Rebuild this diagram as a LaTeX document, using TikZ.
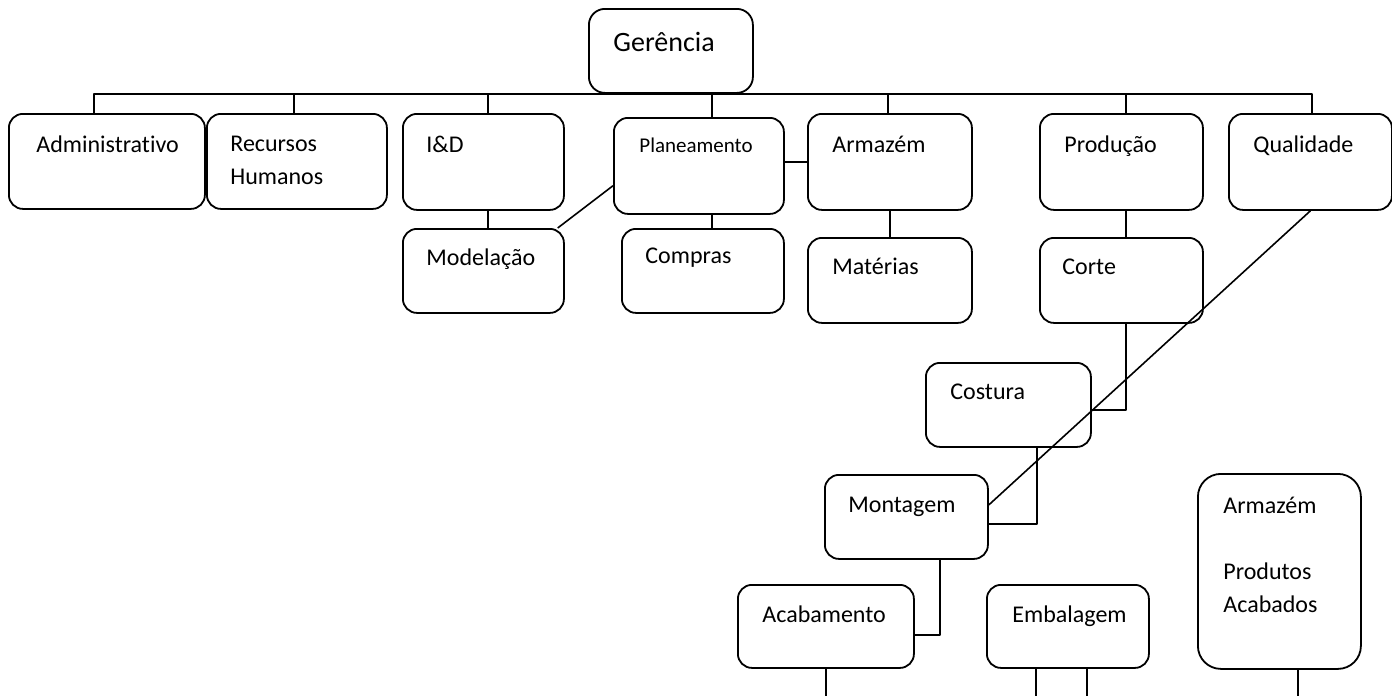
\documentclass[tikz,border=0pt]{standalone}
\usepackage{fontspec}
\setmainfont{Carlito}[Ligatures=CommonOff]
\usetikzlibrary{positioning}
\tikzset{
	caixa/.style={draw, line width=0.9pt, rounded corners=7pt, anchor=north west, inner sep=0pt},
	texto/.style={anchor=base west, inner sep=0pt, align=left, font=\fontsize{12}{16.5}\selectfont},
	ligacao/.style={line width=0.8pt}
}

\begin{document}
\begin{tikzpicture}[x=0.5pt,y=-0.5pt,line join=round]
		\useasboundingbox (0,0) rectangle (1392,696);
		\coordinate (fundo) at (0,696);
		\node[caixa, minimum width=82pt, minimum height=42pt, rounded corners=8pt,
			label={[texto, font=\fontsize{14}{17}\selectfont, xshift=12.5pt, yshift=-21.5pt]north west:Gerência}] (Gerencia) at (588,8) {};
		\node[caixa, minimum width=98pt, minimum height=47.5pt,
			label={[texto, xshift=14pt, yshift=-19.5pt]north west:Administrativo}] (Administrativo) at (8,113) {};
		\node[caixa, minimum width=90pt, minimum height=47.5pt,
			label={[texto, xshift=12pt, yshift=-35.5pt]north west:{Recursos\\Humanos}}] (Recursos) at (206,113) {};
		\node[caixa, minimum width=80.5pt, minimum height=48pt,
			label={[texto, xshift=12pt, yshift=-19.5pt]north west:I\&D}] (ID) at (402,113) {};
		\node[caixa, minimum width=85pt, minimum height=48pt,
			label={[texto, font=\fontsize{10.5}{13}\selectfont, xshift=13pt, yshift=-17.5pt]north west:Planeamento}] (Planeamento) at (613,117) {};
		\node[caixa, minimum width=82pt, minimum height=48pt,
			label={[texto, xshift=12.5pt, yshift=-19.5pt]north west:Armazém}] (Armazem) at (807,113) {};
		\node[caixa, minimum width=81.5pt, minimum height=48pt,
			label={[texto, xshift=12.5pt, yshift=-19.5pt]north west:Produção}] (Producao) at (1039,113) {};
		\node[caixa, minimum width=81.5pt, minimum height=48pt,
			label={[texto, xshift=12.5pt, yshift=-19.5pt]north west:Qualidade}] (Qualidade) at (1228,113) {};
		\node[caixa, minimum width=80.5pt, minimum height=42pt,
			label={[texto, xshift=12pt, yshift=-18.5pt]north west:Modelação}] (Modelacao) at (402,228) {};
		\node[caixa, minimum width=81pt, minimum height=42pt,
			label={[texto, xshift=12pt, yshift=-17.5pt]north west:Compras}] (Compras) at (621,228) {};
		\node[caixa, minimum width=82pt, minimum height=42.5pt,
			label={[texto, xshift=12.5pt, yshift=-18.5pt]north west:Matérias}] (Materias) at (807,237) {};
		\node[caixa, minimum width=81.5pt, minimum height=42.5pt,
			label={[texto, xshift=11.5pt, yshift=-18.5pt]north west:Corte}] (Corte) at (1039,237) {};
		\node[caixa, minimum width=82.5pt, minimum height=42pt,
			label={[texto, xshift=12.5pt, yshift=-18.5pt]north west:Costura}] (Costura) at (925,362) {};
		\node[caixa, minimum width=81.5pt, minimum height=42pt,
			label={[texto, xshift=12pt, yshift=-19pt]north west:Montagem}] (Montagem) at (824,474) {};
		\node[caixa, minimum width=88pt, minimum height=41.5pt,
			label={[texto, xshift=12.5pt, yshift=-19pt]north west:Acabamento}] (Acabamento) at (737,584) {};
		\node[caixa, minimum width=81pt, minimum height=41.5pt,
			label={[texto, xshift=13pt, yshift=-19pt]north west:Embalagem}] (Embalagem) at (986,584) {};
		\node[caixa, minimum width=81.5pt, minimum height=97.5pt, rounded corners=11.5pt,
			label={[texto, xshift=13pt, yshift=-69.5pt]north west:{Armazém\\[16.5pt]Produtos\\Acabados}}] (ArmazemPA) at (1197,473) {};
		\foreach \n/\dx in {Administrativo/-6.5, Recursos/-1.5, ID/2.25, Planeamento/6.5, Armazem/-1, Producao/2.25, Qualidade/0.75}
			\draw[ligacao] ([xshift=\dx pt]\n.north) |- (Gerencia.south);
		\draw[ligacao] (Armazem.west) -- (Armazem.west -| Planeamento.east);
		\draw[ligacao] ([xshift=2.25pt]ID.south) -- ([xshift=2.25pt]Modelacao.north);
		\draw[ligacao] (Planeamento.193) -- (Modelacao.30);
		\draw[ligacao] ([xshift=6.5pt]Planeamento.south) -- ([xshift=6.5pt]Planeamento.south |- Compras.north);
		\draw[ligacao] (Armazem.south) -- (Materias.north);
		\draw[ligacao] ([xshift=2.25pt]Producao.south) -- ([xshift=2.25pt]Corte.north);
		\draw[ligacao] ([xshift=2.25pt]Corte.south) |- ([yshift=-2.5pt]Costura.east);
		\draw[ligacao] ([xshift=14.25pt]Costura.south) |- ([yshift=-3.5pt]Montagem.east);
		\draw[ligacao] ([xshift=16.75pt]Montagem.south) |- ([yshift=-4.25pt]Acabamento.east);
		\draw[ligacao] (Qualidade.south) -- ([yshift=6pt]Montagem.east);
		\draw[ligacao] (Acabamento.south) -- (Acabamento.south |- fundo);
		\foreach \dx in {-16,9.5}
			\draw[ligacao] ([xshift=\dx pt]Embalagem.south) -- ([xshift=\dx pt]Embalagem.south |- fundo);
		\draw[ligacao] ([xshift=9.25pt]ArmazemPA.south) -- ([xshift=9.25pt]ArmazemPA.south |- fundo);
	\end{tikzpicture}
\end{document}
